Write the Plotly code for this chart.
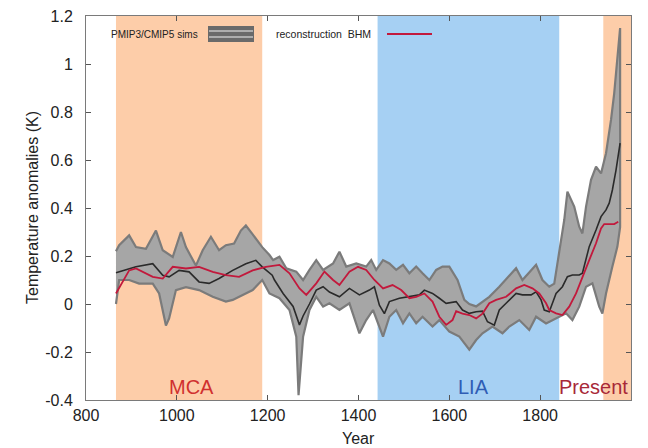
import plotly.graph_objects as go

# ---------------- data ----------------
band_up_years = [866, 873, 895, 910, 932, 954, 969, 991, 1009, 1020, 1042, 1057, 1075, 1093, 1108,
                 1126, 1141, 1152, 1167, 1188, 1204, 1212, 1226, 1241, 1263, 1278, 1292, 1307, 1322,
                 1344, 1358, 1373, 1395, 1417, 1428, 1439, 1454, 1468, 1483, 1498, 1512, 1527, 1541,
                 1556, 1571, 1585, 1600, 1618, 1633, 1644, 1659, 1688, 1710, 1747, 1761, 1791, 1805,
                 1820, 1831, 1842, 1853, 1860, 1875, 1886, 1893, 1901, 1912, 1923, 1934, 1945, 1956,
                 1963, 1970, 1976]
band_upper = [0.22, 0.245, 0.286, 0.237, 0.23, 0.306, 0.224, 0.196, 0.30, 0.237, 0.16, 0.224, 0.28,
              0.224, 0.245, 0.252, 0.306, 0.327, 0.29, 0.237, 0.204, 0.183, 0.197, 0.149, 0.135, 0.10,
              0.142, 0.183, 0.142, 0.169, 0.218, 0.156, 0.169, 0.156, 0.183, 0.142, 0.183, 0.169,
              0.142, 0.163, 0.128, 0.156, 0.128, 0.10, 0.142, 0.156, 0.156, 0.10, 0.017, 0.0, -0.01,
              0.03, 0.072, 0.149, 0.10, 0.163, 0.10, 0.072, 0.085, 0.211, 0.35, 0.468, 0.406, 0.322,
              0.294, 0.406, 0.517, 0.572, 0.544, 0.628, 0.767, 0.878, 1.017, 1.15]

band_lo_years = [866, 873, 895, 917, 947, 961, 976, 983, 998, 1020, 1049, 1079, 1108, 1123, 1137,
                 1167, 1188, 1204, 1226, 1248, 1263, 1268, 1278, 1292, 1307, 1322, 1336, 1358, 1380,
                 1402, 1417, 1432, 1454, 1468, 1483, 1498, 1512, 1527, 1541, 1563, 1578, 1600, 1622,
                 1644, 1659, 1673, 1695, 1717, 1732, 1754, 1776, 1791, 1813, 1827, 1842, 1857, 1871,
                 1886, 1901, 1915, 1930, 1937, 1945, 1959, 1970, 1976]
band_lower = [0.0, 0.10, 0.10, 0.085, 0.085, 0.044, -0.09, -0.06, 0.058, 0.07, 0.058, 0.03, 0.01,
              0.017, 0.03, 0.058, 0.10, 0.044, 0.024, -0.025, -0.136, -0.38, -0.136, -0.025, 0.03,
              -0.011, 0.003, -0.025, 0.003, -0.122, -0.067, -0.025, -0.136, -0.053, -0.025, -0.08,
              -0.039, -0.08, -0.053, -0.094, -0.067, -0.115, -0.136, -0.19, -0.15, -0.122, -0.094,
              -0.122, -0.094, -0.067, -0.108, -0.053, -0.081, -0.067, -0.053, -0.039, -0.067, -0.011,
              0.072, 0.086, -0.011, -0.04, 0.044, 0.156, 0.239, 0.32]

sim_years = [866, 895, 910, 947, 969, 983, 1005, 1027, 1049, 1071, 1093, 1123, 1152, 1174, 1188,
             1210, 1215, 1234, 1256, 1270, 1278, 1292, 1307, 1322, 1336, 1358, 1380, 1402, 1424,
             1435, 1446, 1457, 1468, 1490, 1512, 1534, 1545, 1563, 1578, 1593, 1615, 1629, 1644,
             1659, 1673, 1684, 1699, 1710, 1725, 1739, 1747, 1761, 1780, 1791, 1802, 1809, 1820,
             1827, 1835, 1849, 1860, 1871, 1886, 1893, 1901, 1908, 1923, 1934, 1945, 1952, 1959,
             1967, 1976]
sim_mean = [0.13, 0.148, 0.155, 0.168, 0.12, 0.113, 0.14, 0.134, 0.092, 0.086, 0.106, 0.14, 0.168,
            0.182, 0.155, 0.12, 0.10, 0.044, -0.01, -0.087, -0.05, 0.0, 0.058, 0.072, 0.05, 0.03,
            0.065, 0.038, 0.058, 0.072, -0.005, -0.04, 0.01, 0.024, 0.03, 0.038, 0.058, 0.044, 0.024,
            0.003, 0.01, -0.025, -0.039, -0.032, -0.03, -0.074, -0.088, -0.025, 0.003, 0.03, 0.044,
            0.038, 0.038, 0.051, 0.017, -0.025, -0.032, 0.003, 0.044, 0.072, 0.114, 0.121, 0.121,
            0.128, 0.183, 0.239, 0.308, 0.364, 0.392, 0.42, 0.475, 0.558, 0.67]

bhm_years = [866, 895, 910, 947, 969, 991, 1020, 1049, 1079, 1108, 1137, 1167, 1196, 1226, 1248,
             1270, 1285, 1307, 1325, 1344, 1358, 1380, 1399, 1417, 1435, 1454, 1475, 1494, 1512,
             1527, 1545, 1563, 1578, 1593, 1607, 1615, 1629, 1644, 1659, 1673, 1688, 1703, 1725,
             1747, 1765, 1783, 1798, 1813, 1820, 1835, 1849, 1864, 1879, 1893, 1908, 1923, 1934,
             1941, 1952, 1963, 1972]
bhm_recon = [0.044, 0.14, 0.148, 0.113, 0.106, 0.155, 0.148, 0.155, 0.134, 0.12, 0.113, 0.14, 0.155,
             0.163, 0.128, 0.065, 0.038, 0.086, 0.135, 0.10, 0.079, 0.135, 0.155, 0.142, 0.10, 0.065,
             0.079, 0.058, 0.024, 0.03, 0.044, 0.01, -0.053, -0.087, -0.067, -0.03, -0.04, -0.046,
             -0.06, -0.04, 0.003, 0.017, 0.03, 0.065, 0.079, 0.065, 0.044, 0.003, -0.025, -0.039,
             -0.046, -0.011, 0.044, 0.114, 0.183, 0.253, 0.315, 0.333, 0.333, 0.333, 0.343]

periods = ["MCA", "LIA", "Present"]
period_start = [866, 1442, 1939]
period_end = [1188, 1842, 2000]
period_label_x = [1033, 1653, 1917]

x_ticks = [800, 1000, 1200, 1400, 1600, 1800, 2000]
y_ticks = [-0.4, -0.2, 0, 0.2, 0.4, 0.6, 0.8, 1, 1.2]
y_tick_labels = ["-0.4", "-0.2", "0", "0.2", "0.4", "0.6", "0.8", "1", "1.2"]

legend_labels = ["PMIP3/CMIP5 sims", "reconstruction  BHM"]
x_title = "Year"
y_title = "Temperature anomalies (K)"

# ---------------- styling ----------------
FONT = "Liberation Sans, Arial, Helvetica, sans-serif"
period_fill = ["#fdcda9", "#a6d0f3", "#fdcda9"]
period_text = ["#d0302f", "#2f5db5", "#a82838"]
band_fill = "#a6a6a6"
band_edge = "#7b7b7b"
black_col = "#2a2a2a"
red_col = "#c2193c"

W, H = 648, 448
L, R, T, B = 86, 17, 16, 48
pw, ph = W - L - R, H - T - B


def px(x):
    return (x - L) / pw


def py(y):
    return (H - B - y) / ph


fig = go.Figure()

# ensemble band polygon
fig.add_trace(go.Scatter(
    x=band_up_years + band_lo_years[::-1],
    y=band_upper + band_lower[::-1],
    fill="toself", fillcolor=band_fill, mode="lines",
    line=dict(color=band_edge, width=2.2), hoverinfo="skip", showlegend=False))

fig.add_trace(go.Scatter(x=sim_years, y=sim_mean, mode="lines",
                         line=dict(color=black_col, width=1.6), showlegend=False))
fig.add_trace(go.Scatter(x=bhm_years, y=bhm_recon, mode="lines",
                         line=dict(color=red_col, width=1.8), showlegend=False))

shapes = []
for s, e, c in zip(period_start, period_end, period_fill):
    shapes.append(dict(type="rect", xref="x", yref="paper", x0=s, x1=e, y0=0, y1=1,
                       fillcolor=c, line=dict(width=0), layer="below"))

# legend sample: gray box with light stripes
shapes.append(dict(type="rect", xref="paper", yref="paper", x0=px(208), x1=px(254),
                   y0=py(42), y1=py(26), fillcolor="#6a6a6a", line=dict(width=0)))
for sy in (31, 37):
    shapes.append(dict(type="line", xref="paper", yref="paper", x0=px(209), x1=px(253),
                       y0=py(sy), y1=py(sy), line=dict(color="#c4c4c4", width=1.5)))
# legend sample: red line
shapes.append(dict(type="line", xref="paper", yref="paper", x0=px(387), x1=px(432),
                   y0=py(34), y1=py(34), line=dict(color=red_col, width=2)))

annotations = []
for lab, xc, col in zip(periods, period_label_x, period_text):
    annotations.append(dict(x=xc, y=-0.345, xref="x", yref="y", text=lab, showarrow=False,
                            font=dict(family=FONT, size=20, color=col),
                            xanchor="center", yanchor="middle"))
annotations.append(dict(x=px(200), y=py(34), xref="paper", yref="paper", text=legend_labels[0],
                        showarrow=False, xanchor="right", yanchor="middle",
                        font=dict(family=FONT, size=10, color="#222")))
annotations.append(dict(x=px(274), y=py(34), xref="paper", yref="paper", text=legend_labels[1],
                        showarrow=False, xanchor="left", yanchor="middle",
                        font=dict(family=FONT, size=10.5, color="#222")))
# axis titles
annotations.append(dict(x=0.5, y=py(438), xref="paper", yref="paper", text=x_title,
                        showarrow=False, xanchor="center", yanchor="middle",
                        font=dict(family=FONT, size=16, color="#222")))
annotations.append(dict(x=px(32), y=0.5, xref="paper", yref="paper", text=y_title,
                        showarrow=False, xanchor="center", yanchor="middle", textangle=-90,
                        font=dict(family=FONT, size=16, color="#222")))

axis_common = dict(showgrid=False, zeroline=False, showline=True, linecolor="#7a7a7a",
                   linewidth=1, ticks="inside", ticklen=5, tickcolor="#555", mirror="ticks",
                   tickfont=dict(family=FONT, size=16, color="#222"))

fig.update_layout(
    width=W, height=H,
    margin=dict(l=L, r=R, t=T, b=B, autoexpand=False),
    paper_bgcolor="white", plot_bgcolor="white",
    showlegend=False, hovermode=False,
    shapes=shapes, annotations=annotations,
    xaxis=dict(range=[800, 2000], tickvals=x_ticks, ticktext=[str(v) for v in x_ticks],
               ticklabelstandoff=1, **axis_common),
    yaxis=dict(range=[-0.4, 1.2], tickvals=y_ticks, ticktext=y_tick_labels,
               ticklabelstandoff=9, **axis_common),
)

# remove the default 8px page margin so the figure sits at the window's top-left corner
fig.write_html("out.html", config={"displayModeBar": False},
               post_script="document.body.style.margin='0';document.body.style.overflow='hidden';")
